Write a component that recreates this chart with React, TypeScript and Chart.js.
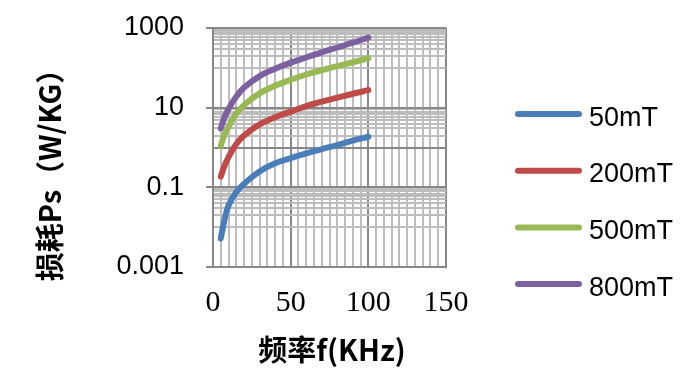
import React, { useEffect, useRef } from "react";
import { Chart, registerables } from "chart.js";

Chart.register(...registerables);

// ---- data ----
const frequencyKHz = [5, 7.5, 10, 15, 20, 30, 40, 50, 60, 70, 80, 90, 100];
const loss50mT = [0.0052, 0.0158, 0.035, 0.076, 0.123, 0.25, 0.4, 0.54, 0.71, 0.91, 1.15, 1.48, 1.86];
const loss200mT = [0.186, 0.355, 0.575, 1.23, 2.0, 3.8, 5.75, 7.94, 11.0, 14.1, 17.8, 22.4, 27.5];
const loss500mT = [1.12, 2.14, 3.3, 7.1, 11.7, 22.9, 35.5, 50, 68, 87, 110, 138, 174];
const loss800mT = [3.0, 5.8, 9.3, 19, 32, 62, 95, 135, 182, 245, 324, 427, 575];

const seriesLabels = ["50mT", "200mT", "500mT", "800mT"];
const seriesColors = ["#4A7EBB", "#BE4B48", "#98B954", "#7D60A0"];

const yGridValues = [
  0.001, 0.01, 0.02, 0.03, 0.04, 0.05, 0.06, 0.07, 0.08, 0.09, 0.1,
  1, 2, 3, 4, 5, 6, 7, 8, 9, 10,
  100, 200, 300, 400, 500, 600, 700, 800, 900, 1000,
];
const yTickLabels = ["0.001", "0.1", "10", "1000"];
const yStrongLines = [0.001, 0.1, 1, 10, 1000];
const xTickLabels = [0, 50, 100, 150];

const yTitle = "损耗Ps（W/KG）";
const xTitle = "频率f(KHz)";

const MAJOR = "#878787";
const MINOR = "#BDBDBD";

export default function App() {
  const ref = useRef<HTMLCanvasElement | null>(null);

  useEffect(() => {
    if (!ref.current) return;
    const allSeries = [loss50mT, loss200mT, loss500mT, loss800mT];
    const datasets = allSeries.map((vals, i) => ({
      label: seriesLabels[i],
      data: vals.map((v, j) => ({ x: frequencyKHz[j], y: v })),
      borderColor: seriesColors[i],
      backgroundColor: seriesColors[i],
      borderWidth: 6,
      borderCapStyle: "round" as const,
      borderJoinStyle: "round" as const,
      pointRadius: 0,
      tension: 0.4,
      fill: false,
    }));

    const isStrongY = (v: number) => yStrongLines.some((s) => Math.abs(s - v) / s < 1e-6);
    const isLabelY = (v: number) => yTickLabels.some((s) => Math.abs(parseFloat(s) - v) / v < 1e-6);

    const overlay = {
      id: "overlay",
      afterDraw(chart: any) {
        const ctx = chart.ctx;
        ctx.save();
        // legend
        chart.data.datasets.forEach((ds: any, i: number) => {
          const y = 114 + i * 56.7;
          ctx.strokeStyle = ds.borderColor;
          ctx.lineWidth = 6;
          ctx.lineCap = "round";
          ctx.beginPath();
          ctx.moveTo(518, y);
          ctx.lineTo(579, y);
          ctx.stroke();
          ctx.fillStyle = "#000";
          ctx.font = "27px 'Liberation Sans', Arial, sans-serif";
          ctx.textAlign = "left";
          ctx.textBaseline = "alphabetic";
          ctx.fillText(ds.label, 589, y + 11.5);
        });
        // titles
        ctx.fillStyle = "#000";
        ctx.font = "bold 29px 'Noto Sans CJK SC', sans-serif";
        ctx.textAlign = "center";
        ctx.textBaseline = "middle";
        ctx.fillText(xTitle, 332, 350);
        ctx.translate(50, 168);
        ctx.rotate(-Math.PI / 2);
        ctx.font = "bold 29px 'Noto Sans CJK SC', sans-serif";
        ctx.fillText(yTitle, 0, 0);
        ctx.restore();
      },
    };

    const chart = new Chart(ref.current, {
      type: "line",
      data: { datasets },
      plugins: [overlay],
      options: {
        animation: false,
        responsive: false,
        devicePixelRatio: 1,
        layout: { padding: { left: 0, top: 28, right: 249, bottom: 0 } },
        plugins: { legend: { display: false }, tooltip: { enabled: false } },
        scales: {
          x: {
            type: "linear",
            min: 0,
            max: 150,
            afterBuildTicks: (scale: any) => {
              const t = [];
              for (let v = 0; v <= 150; v += 5) t.push({ value: v });
              scale.ticks = t;
            },
            afterFit: (scale: any) => {
              scale.height = 388 - 267;
              scale.paddingLeft = 0;
              scale.paddingRight = 0;
            },
            ticks: {
              autoSkip: false,
              maxRotation: 0,
              padding: 18,
              color: "#000",
              font: { family: "'Liberation Serif', serif", size: 30 },
              callback: (v: any) => (xTickLabels.includes(Number(v)) ? String(v) : ""),
            },
            grid: {
              drawTicks: false,
              color: (c: any) => (c.tick && c.tick.value % 50 === 0 ? MAJOR : MINOR),
              lineWidth: 2,
            },
            border: { display: true, color: MAJOR, width: 2 },
          },
          y: {
            type: "logarithmic",
            min: 0.001,
            max: 1000,
            afterBuildTicks: (scale: any) => {
              scale.ticks = yGridValues.map((v) => ({ value: v }));
            },
            afterFit: (scale: any) => {
              scale.width = 213;
              scale.paddingTop = 0;
              scale.paddingBottom = 0;
            },
            ticks: {
              autoSkip: false,
              padding: 22,
              color: "#000",
              font: { family: "'Liberation Sans', Arial, sans-serif", size: 27 },
              callback: (v: any) => {
                const n = Number(v);
                return isLabelY(n) ? yTickLabels.find((s) => Math.abs(parseFloat(s) - n) / n < 1e-6) : "";
              },
            },
            grid: {
              tickLength: 7,
              color: (c: any) => (c.tick && isStrongY(c.tick.value) ? MAJOR : MINOR),
              tickColor: (c: any) => (c.tick && isLabelY(c.tick.value) ? MAJOR : "rgba(0,0,0,0)"),
              lineWidth: 2,
            },
            border: { display: true, color: MAJOR, width: 2 },
          },
        },
      },
    } as any);
    return () => chart.destroy();
  }, []);

  return (
    <div style={{ position: "fixed", left: 0, top: 0, width: 695, height: 388, background: "#fff" }}>
      <canvas ref={ref} width={695} height={388} style={{ width: 695, height: 388 }} />
    </div>
  );
}
